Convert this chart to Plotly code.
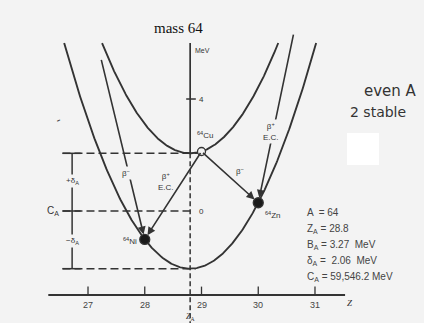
import numpy as np
import plotly.graph_objects as go

# Isobar A = 64 parameters
A = 64
Z_A = 28.8
B_A = 3.27          # MeV
DELTA_A = 2.06      # MeV
C_A = 59546.2       # MeV

Z_TICKS = [27, 28, 29, 30, 31]

# Nuclides shown on the parabolas (Z, odd-odd?)
NUC_NAMES = ["Ni", "Cu", "Zn"]
NUC_Z = [28, 29, 30]
NUC_ODD = [False, True, False]

# Parent nuclides of the incoming decays (off the top of the plot)
CO_Z = 27   # 64Co -> 64Ni  (beta-)
GA_Z = 31   # 64Ga -> 64Zn  (beta+ / E.C.)

E_TOP = 6.0         # height at which the curves are cut (MeV above C_A)
E_ARROW_TOP = 5.45
E_AXIS = -3.0       # height of the Z axis line

INK = "#333333"
BG = "#f3f3f3"


def mass(z, odd):
    """Mass excess over C_A (MeV) on the odd-odd (+delta) or even-even (-delta) parabola."""
    z = np.asarray(z, dtype=float)
    return B_A / 2 * (z - Z_A) ** 2 + (DELTA_A if odd else -DELTA_A)


def parabola(odd):
    half = np.sqrt((E_TOP - (DELTA_A if odd else -DELTA_A)) / (B_A / 2))
    z = np.linspace(Z_A - half, Z_A + half, 300)
    return z, mass(z, odd)


fig = go.Figure()

# Mass parabolas
for odd in (True, False):
    z, m = parabola(odd)
    fig.add_trace(go.Scatter(x=z, y=m, mode="lines",
                             line=dict(color=INK, width=1.9),
                             hoverinfo="skip", showlegend=False))

# Vertical axis at Z_A: solid above the odd-odd minimum, dashed below
fig.add_trace(go.Scatter(x=[Z_A, Z_A], y=[E_TOP, DELTA_A], mode="lines",
                         line=dict(color=INK, width=1.7), hoverinfo="skip", showlegend=False))
fig.add_trace(go.Scatter(x=[Z_A, Z_A], y=[DELTA_A, -4.0], mode="lines",
                         line=dict(color=INK, width=1.5, dash="5px,3px"),
                         hoverinfo="skip", showlegend=False))

# Horizontal dashed reference levels: +delta, C_A (0), -delta
Z_LEFT = 26.55
nuc_E = {n: float(mass(z, o)) for n, z, o in zip(NUC_NAMES, NUC_Z, NUC_ODD)}
for lev, zend in ((DELTA_A, 29.0), (0.0, Z_A), (-DELTA_A, Z_A + 0.1)):
    fig.add_trace(go.Scatter(x=[Z_LEFT, zend], y=[lev, lev], mode="lines",
                             line=dict(color=INK, width=1.6, dash="8px,4px"),
                             hoverinfo="skip", showlegend=False))

# Left bracket marking +/- delta_A around C_A
Z_BR = 26.72
fig.add_trace(go.Scatter(x=[Z_BR, Z_BR], y=[DELTA_A, -DELTA_A], mode="lines",
                         line=dict(color=INK, width=1.5), hoverinfo="skip", showlegend=False))
for lev in (DELTA_A, 0.0, -DELTA_A):
    fig.add_trace(go.Scatter(x=[Z_LEFT, Z_BR + 0.15], y=[lev, lev], mode="lines",
                             line=dict(color=INK, width=1.5), hoverinfo="skip", showlegend=False))

# Z axis with ticks
fig.add_trace(go.Scatter(x=[26.3, 31.53], y=[E_AXIS, E_AXIS], mode="lines",
                         line=dict(color=INK, width=1.8), hoverinfo="skip", showlegend=False))
for zt in Z_TICKS:
    fig.add_trace(go.Scatter(x=[zt, zt], y=[E_AXIS, E_AXIS + 0.3], mode="lines",
                             line=dict(color=INK, width=1.3), hoverinfo="skip", showlegend=False))
    fig.add_annotation(x=zt, y=E_AXIS, text=str(zt), showarrow=False, yshift=-10,
                       font=dict(size=9, color="#444", family="Liberation Sans"))

# MeV tick at +4 on the vertical axis
fig.add_trace(go.Scatter(x=[Z_A - 0.07, Z_A + 0.1], y=[4, 4], mode="lines",
                         line=dict(color=INK, width=1.5), hoverinfo="skip", showlegend=False))

# Decay arrows
def arrow(z0, e0, z1, e1, cut_top=None):
    if cut_top is not None and e0 > cut_top:
        t = (e0 - cut_top) / (e0 - e1)
        z0, e0 = z0 + t * (z1 - z0), cut_top
    fig.add_annotation(x=z1, y=e1, ax=z0, ay=e0, xref="x", yref="y", axref="x", ayref="y",
                       showarrow=True, arrowhead=2, arrowsize=1.0, arrowwidth=1.6,
                       arrowcolor=INK, standoff=5, text="")
    return z0, e0


def point_at(z0, e0, z1, e1, e):
    t = (e0 - e) / (e0 - e1)
    return z0 + t * (z1 - z0)


co_E = float(mass(CO_Z, True))
ga_E = float(mass(GA_Z, True))
arrow(CO_Z, co_E, 28, nuc_E["Ni"], cut_top=E_ARROW_TOP)
arrow(GA_Z, ga_E, 30, nuc_E["Zn"], cut_top=E_TOP + 0.35)
arrow(29, nuc_E["Cu"], 28, nuc_E["Ni"])
arrow(29, nuc_E["Cu"], 30, nuc_E["Zn"])

lab_font = dict(size=8, color="#333", family="Liberation Sans")

# beta- label on the 64Co -> 64Ni arrow
e_lab = 1.35
fig.add_annotation(x=point_at(CO_Z, co_E, 28, nuc_E["Ni"], e_lab), y=e_lab,
                   text="β<sup>−</sup>", showarrow=False, xshift=-3, bgcolor=BG,
                   font=lab_font)
# beta+/EC label on the 64Ga -> 64Zn arrow
e_lab = 2.85
fig.add_annotation(x=point_at(GA_Z, ga_E, 30, nuc_E["Zn"], e_lab), y=e_lab,
                   text="β<sup>+</sup><br>E.C.", showarrow=False, xshift=-2, bgcolor=BG,
                   font=lab_font)
# Labels beside the 64Cu decays
fig.add_annotation(x=28.5, y=(nuc_E["Cu"] + nuc_E["Ni"]) / 2, text="β<sup>+</sup><br>E.C.",
                   showarrow=False, xshift=-7, yshift=14, font=lab_font)
fig.add_annotation(x=29.5, y=(nuc_E["Cu"] + nuc_E["Zn"]) / 2, text="β<sup>−</sup>",
                   showarrow=False, xshift=10, yshift=6, font=lab_font)

# Nuclide markers: filled for stable even-even, open for odd-odd
for n, z, odd in zip(NUC_NAMES, NUC_Z, NUC_ODD):
    fig.add_trace(go.Scatter(x=[z], y=[nuc_E[n]], mode="markers",
                             marker=dict(size=8 if odd else 10,
                                         color=BG if odd else "#1a1a1a",
                                         line=dict(color=INK, width=1.3)),
                             hoverinfo="skip", showlegend=False))

fig.add_annotation(x=29, y=nuc_E["Cu"], text=f"<sup>{A}</sup>Cu", showarrow=False,
                   xshift=3, yshift=16, font=lab_font)
fig.add_annotation(x=28, y=nuc_E["Ni"], text=f"<sup>{A}</sup>Ni", showarrow=False,
                   xanchor="right", xshift=-6, yshift=-2, font=lab_font)
fig.add_annotation(x=30, y=nuc_E["Zn"], text=f"<sup>{A}</sup>Zn", showarrow=False,
                   xanchor="left", xshift=5, yshift=-12, font=lab_font)

# Vertical axis labels
fig.add_annotation(x=Z_A, y=E_TOP - 0.25, text="MeV", showarrow=False, xanchor="left",
                   xshift=3, font=dict(size=7, color="#333", family="Liberation Sans"))
fig.add_annotation(x=Z_A, y=4, text="4", showarrow=False, xanchor="left", xshift=7,
                   font=lab_font)
fig.add_annotation(x=Z_A, y=0, text="0", showarrow=False, xanchor="left", xshift=7,
                   font=lab_font)

# Bracket labels
fig.add_annotation(x=Z_BR, y=DELTA_A / 2 + 0.05, text="+δ<sub>A</sub>", showarrow=False,
                   bgcolor=BG, font=lab_font)
fig.add_annotation(x=Z_BR, y=-DELTA_A / 2 - 0.05, text="−δ<sub>A</sub>", showarrow=False,
                   bgcolor=BG, font=lab_font)
fig.add_annotation(x=Z_LEFT, y=0, text="C<sub>A</sub>", showarrow=False, xanchor="right",
                   xshift=-1, font=dict(size=10, color="#333", family="Liberation Sans"))

# Axis symbols
fig.add_annotation(x=31.53, y=E_AXIS, text="<i>Z</i>", showarrow=False, xanchor="left",
                   xshift=0, yshift=-8, font=dict(size=9, color="#333", family="Liberation Serif"))
fig.add_annotation(x=Z_A, y=E_AXIS, text="<i>Z</i><sub>A</sub>", showarrow=False,
                   yshift=-22, font=dict(size=8, color="#333", family="Liberation Serif"))

# Parameter block
params = [f"A  = {A}",
          f"Z<sub>A</sub> = {Z_A}",
          f"B<sub>A</sub> = {B_A}  MeV",
          f"δ<sub>A</sub> =  {DELTA_A}  MeV",
          f"C<sub>A</sub> = {C_A:,.1f} MeV"]
for i, s in enumerate(params):
    fig.add_annotation(xref="paper", yref="paper", x=305 / 424, y=1 - (213 + 16 * i) / 323,
                       text=s, showarrow=False, xanchor="left", yanchor="middle",
                       font=dict(size=10, color="#444", family="Liberation Sans"))

# Title and handwritten notes
fig.add_annotation(xref="paper", yref="paper", x=178 / 424, y=1 - 18 / 323, text="mass 64",
                   showarrow=False, xanchor="center",
                   font=dict(size=15, color="#111", family="Liberation Serif"))
fig.add_annotation(xref="paper", yref="paper", x=390 / 424, y=1 - 80 / 323, text="even A",
                   showarrow=False, xanchor="center",
                   font=dict(size=15, color="#333", family="DejaVu Sans"))
fig.add_annotation(xref="paper", yref="paper", x=378 / 424, y=1 - 112 / 323, text="2 stable",
                   showarrow=False, xanchor="center",
                   font=dict(size=14, color="#333", family="DejaVu Sans"))
fig.add_annotation(xref="paper", yref="paper", x=58 / 424, y=1 - 120 / 323, text="-",
                   showarrow=False, textangle=-25, xanchor="center",
                   font=dict(size=12, color="#444", family="DejaVu Sans"))

# Blank patch
fig.add_shape(type="rect", xref="paper", yref="paper",
              x0=347 / 424, x1=379 / 424, y0=1 - 165 / 323, y1=1 - 133 / 323,
              fillcolor="white", line=dict(width=0), layer="above")

fig.update_xaxes(range=[25.449, 32.921], visible=False, fixedrange=True)
fig.update_yaxes(range=[-4.0, 7.536], visible=False, fixedrange=True)
fig.update_layout(width=424, height=323, margin=dict(l=0, r=0, t=0, b=0),
                  paper_bgcolor=BG, plot_bgcolor=BG)

fig.write_html("out.html", include_plotlyjs=True, config={"displayModeBar": False})
